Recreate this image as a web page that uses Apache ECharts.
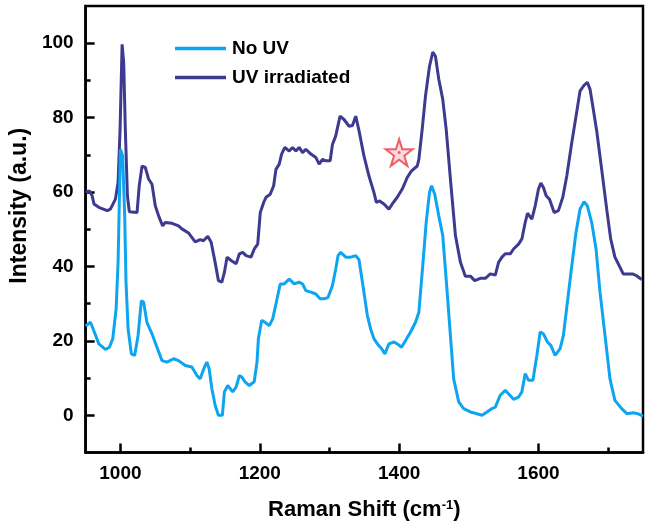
<!DOCTYPE html>
<html>
<head>
<meta charset="utf-8">
<title>Raman spectra</title>
<script src="https://cdn.jsdelivr.net/npm/echarts@6/dist/echarts.min.js"></script>
<style>
  html, body { margin: 0; padding: 0; background: #fff; }
  #chart { width: 651px; height: 526px; }
</style>
</head>
<body>
<div id="chart"></div>
<script>
// Raman spectra: wavenumber (cm-1) and intensity (a.u.) for each sample
const shiftNoUV = [950, 957, 961.7, 969, 978.5, 984.2, 989, 993.8, 996.6, 1000, 1003.2, 1006.1, 1008, 1011, 1015.7, 1020.4, 1025.3, 1030, 1033.3, 1038, 1045.3, 1052.4, 1059.6, 1066.8, 1076.3, 1083.4, 1093, 1102.5, 1109.7, 1114.4, 1120.6, 1124, 1127.3, 1131.2, 1135.9, 1140.6, 1146.3, 1149.2, 1154, 1161.2, 1166, 1170.7, 1174, 1178.8, 1185, 1192, 1196, 1198, 1202.7, 1207.4, 1213.6, 1218.5, 1223.2, 1229.3, 1235, 1242.2, 1249.4, 1256.5, 1261.4, 1266.1, 1273.3, 1280.4, 1286.6, 1292.3, 1298, 1304.3, 1309, 1312.3, 1316.2, 1323.4, 1330.5, 1337.7, 1342.4, 1347.3, 1354.4, 1359.1, 1363.8, 1368.7, 1374.9, 1379.6, 1385.3, 1392.5, 1397.3, 1403.5, 1409.2, 1416.4, 1423.5, 1428.3, 1433.1, 1438.8, 1443.6, 1446.5, 1451.1, 1456.9, 1462.6, 1467.5, 1473.6, 1478.3, 1485.5, 1492.6, 1502.3, 1511.8, 1519, 1526.1, 1533.2, 1538, 1545.2, 1552.3, 1557, 1564.2, 1571.4, 1576.2, 1580.9, 1585.7, 1592, 1597.7, 1602.4, 1607.1, 1612.8, 1617.7, 1623.9, 1631, 1635.7, 1641.5, 1647.8, 1653.9, 1659.6, 1665.4, 1670.1, 1676.4, 1682.6, 1688.3, 1695.5, 1702.6, 1709.7, 1719.3, 1727.3, 1735.9, 1743.1, 1750];
const intNoUV = [24, 25, 22.8, 19.2, 17.7, 18.3, 20.6, 28.6, 41.1, 71.5, 69.7, 53.6, 35.8, 23.2, 16.5, 16.1, 21.4, 30.8, 30.4, 25, 21.9, 18.3, 14.7, 14.3, 15.2, 14.7, 13.4, 13, 10.7, 9.8, 13, 14.3, 12.5, 7.2, 2.7, 0, 0, 6.3, 8, 6.3, 7.6, 10.7, 10.3, 9, 8, 9, 14.3, 20.6, 25.5, 25, 24.1, 25.9, 29.9, 35.3, 35.3, 36.6, 35.3, 35.8, 35.3, 33.5, 33.1, 32.6, 31.3, 31.3, 31.7, 34.9, 39.3, 42.9, 43.8, 42.5, 42.5, 42.9, 41.8, 35.8, 26.8, 23.2, 20.6, 19.2, 17.9, 16.5, 19.2, 19.7, 19.2, 18.3, 20.1, 22.4, 25, 27.7, 38.4, 51.8, 59.9, 61.7, 59.4, 53.6, 48.3, 36.6, 21.4, 9.8, 3.6, 1.8, 0.9, 0.4, 0, 0.9, 1.8, 2.2, 5.4, 6.7, 5.8, 4.3, 4.9, 6.3, 11.2, 9.4, 9.4, 16.1, 22.4, 21.9, 19.7, 18.8, 16.1, 17.9, 21.4, 30.4, 40.2, 49.2, 55.4, 57.4, 56.3, 51.8, 44.7, 33.1, 21.4, 9.8, 4, 1.8, 0.4, 0.7, 0.4, -0.2];

const shiftUV = [950, 955.6, 959.4, 962, 969, 981, 985.6, 992.8, 996.6, 999.5, 1002.4, 1004.7, 1007, 1010, 1012.8, 1023.8, 1027, 1031, 1035.7, 1040.4, 1045.3, 1050, 1054.8, 1060.5, 1064.3, 1074, 1083.4, 1088.2, 1097.7, 1107.3, 1114.4, 1119, 1125.4, 1130.2, 1135.9, 1140.6, 1145.5, 1149.2, 1153, 1158.8, 1166, 1170.7, 1175.5, 1180.3, 1187.4, 1192.1, 1197, 1200.7, 1205.6, 1208.9, 1211.3, 1215, 1219.9, 1223.2, 1227.9, 1231.3, 1236, 1242.2, 1247, 1251.8, 1256.5, 1261.4, 1266.1, 1273.3, 1280.4, 1285.2, 1290, 1294.7, 1301, 1304.3, 1309, 1315.2, 1320.9, 1328, 1333, 1337.7, 1342.4, 1344.8, 1349.5, 1356.7, 1363.8, 1367.3, 1372, 1378.2, 1385.3, 1390.2, 1397.3, 1404.5, 1411.6, 1417.8, 1426, 1428.3, 1433.1, 1437.8, 1443.6, 1448.3, 1452.1, 1456.9, 1462.6, 1467.5, 1473.6, 1480.8, 1488, 1495, 1502.3, 1508.4, 1516.5, 1523.7, 1530.9, 1538, 1542.7, 1547.6, 1552.3, 1559.5, 1564.2, 1571.4, 1576.2, 1580.9, 1584.2, 1590.5, 1595.3, 1600, 1603.4, 1607.1, 1611, 1615.7, 1622.5, 1628.6, 1634.9, 1640.6, 1647.8, 1653.9, 1659.6, 1665.4, 1670.1, 1674, 1678.7, 1683.6, 1690.7, 1697.9, 1703.6, 1709.7, 1716.9, 1721.6, 1728.8, 1735, 1740.8, 1748];
const intUV = [60, 60.3, 59, 56.8, 55.9, 55, 55.4, 58.1, 62.6, 76.9, 99.7, 94.7, 76.9, 59, 54.7, 54.5, 61.7, 67, 66.6, 63.5, 62.1, 56.3, 53.6, 50.9, 51.8, 51.6, 50.9, 50.1, 49, 46.6, 47.2, 46.9, 48.1, 46.5, 41.1, 36.2, 35.8, 38.4, 42.5, 41.6, 40.7, 43.4, 43.8, 42.9, 42.5, 44.7, 46, 54.5, 57.2, 58.6, 58.1, 59.4, 61.7, 66.1, 67.5, 70.2, 72, 71, 72, 71, 72, 70.6, 71.5, 70.2, 69.3, 67.5, 68.8, 68.4, 68.4, 72.8, 75.1, 80.4, 79.5, 77.7, 77.9, 80.4, 76.5, 74.2, 69.7, 64.3, 59.9, 57.2, 57.6, 56.8, 55.4, 56.8, 58.6, 60.8, 63.9, 65.7, 67, 68.8, 76.9, 85.8, 93.8, 97.6, 96.5, 90.3, 84.9, 76.9, 63.5, 48.3, 41.1, 37.4, 37.4, 36.2, 36.8, 36.8, 38, 37.7, 41.1, 42.5, 43.4, 43.4, 44.7, 46, 47.4, 51.8, 54.3, 52.7, 56.3, 60.8, 62.4, 61.2, 59, 58.1, 54.5, 55, 58.6, 64.3, 73.3, 80.4, 87.1, 88.7, 89.5, 87.6, 82.2, 76.4, 66.1, 55.4, 47.4, 42.5, 39.8, 38, 38, 38, 37.5, 36.5];

// Highlighted band marker (shift, intensity)
const starMark = [1400, 70.6];

// Tick positions
const xMajorTicks = [1000, 1200, 1400, 1600];
const xMinorTicks = [1100, 1300, 1500, 1700];
const yMajorTicks = [0, 20, 40, 60, 80, 100];
const yMinorTicks = [10, 30, 50, 70, 90];

const zip = (xs, ys) => xs.map((x, i) => [x, ys[i]]);

const FONT = 'Arial, "Liberation Sans", Helvetica, sans-serif';
const AXIS_W = 2.5;
const STAR_PATH = 'path://M50,2 L61.2,36.3 L97.6,36.3 L68.2,57.7 L79.4,92.2 L50,70.9 L20.6,92.2 L31.8,57.7 L2.4,36.3 L38.8,36.3 Z';
const plain = v => String(v);

const chart = echarts.init(document.getElementById('chart'), null, { renderer: 'canvas' });

chart.setOption({
  backgroundColor: '#ffffff',
  animation: false,
  grid: {
    left: 84, right: 8, top: 6, bottom: 72,
    show: true, borderColor: '#000', borderWidth: AXIS_W, backgroundColor: 'transparent'
  },
  legend: {
    left: 170, top: 34, orient: 'vertical',
    data: ['No UV', 'UV irradiated'],
    icon: 'rect', itemWidth: 51, itemHeight: 3.5, itemGap: 10,
    textStyle: { fontFamily: FONT, fontWeight: 'bold', fontSize: 19, color: '#000', lineHeight: 17, padding: [0, 0, 0, 1] }
  },
  xAxis: [
    {
      type: 'value', min: 950, max: 1750, position: 'bottom',
      name: 'Raman Shift (cm{sup|-1})', nameLocation: 'middle', nameGap: 46,
      nameTextStyle: {
        fontFamily: FONT, fontWeight: 'bold', fontSize: 22, color: '#000',
        rich: { sup: { fontFamily: FONT, fontWeight: 'bold', fontSize: 13, color: '#000', verticalAlign: 'top', padding: [0, 0, 10, 0] } }
      },
      axisLine: { show: true, onZero: false, lineStyle: { color: '#000', width: AXIS_W } },
      axisTick: { show: true, inside: true, length: 9, customValues: xMajorTicks, lineStyle: { color: '#000', width: AXIS_W } },
      axisLabel: { show: true, customValues: xMajorTicks, formatter: plain, margin: 12, fontFamily: FONT, fontWeight: 'bold', fontSize: 19, color: '#000' },
      splitLine: { show: false }
    },
    {
      type: 'value', min: 950, max: 1750, position: 'bottom',
      axisLine: { show: false, onZero: false },
      axisTick: { show: true, inside: true, length: 5, customValues: xMinorTicks, lineStyle: { color: '#000', width: AXIS_W } },
      axisLabel: { show: false },
      splitLine: { show: false }
    }
  ],
  yAxis: [
    {
      type: 'value', min: -10, max: 110, position: 'left',
      name: 'Intensity (a.u.)', nameLocation: 'middle', nameGap: 44,
      nameTextStyle: { fontFamily: FONT, fontWeight: 'bold', fontSize: 23, color: '#000', padding: [0, 0, 0, 47] },
      axisLine: { show: true, onZero: false, lineStyle: { color: '#000', width: AXIS_W } },
      axisTick: { show: true, inside: true, length: 9, customValues: yMajorTicks, lineStyle: { color: '#000', width: AXIS_W } },
      axisLabel: { show: true, customValues: yMajorTicks, formatter: plain, margin: 12, fontFamily: FONT, fontWeight: 'bold', fontSize: 19, color: '#000' },
      splitLine: { show: false }
    },
    {
      type: 'value', min: -10, max: 110, position: 'left',
      axisLine: { show: false, onZero: false },
      axisTick: { show: true, inside: true, length: 5, customValues: yMinorTicks, lineStyle: { color: '#000', width: AXIS_W } },
      axisLabel: { show: false },
      splitLine: { show: false }
    }
  ],
  series: [
    {
      name: 'UV irradiated', type: 'line', xAxisIndex: 0, yAxisIndex: 0,
      data: zip(shiftUV, intUV),
      showSymbol: false, symbol: 'none',
      lineStyle: { color: '#3d3a90', width: 3 },
      itemStyle: { color: '#3d3a90' }
    },
    {
      name: 'No UV', type: 'line', xAxisIndex: 0, yAxisIndex: 0,
      data: zip(shiftNoUV, intNoUV),
      showSymbol: false, symbol: 'none',
      lineStyle: { color: '#0ea5f0', width: 3 },
      itemStyle: { color: '#0ea5f0' }
    },
    {
      name: 'marker', type: 'scatter', xAxisIndex: 0, yAxisIndex: 0,
      data: [starMark],
      symbol: STAR_PATH, symbolSize: 27,
      itemStyle: { color: '#fbd0d4', borderColor: '#ec3b44', borderWidth: 2 },
      z: 5
    },
    {
      name: 'marker-dot', type: 'scatter', xAxisIndex: 0, yAxisIndex: 0,
      data: [starMark],
      symbol: 'circle', symbolSize: 3,
      itemStyle: { color: '#ec3b44' },
      z: 6
    }
  ]
});
</script>
</body>
</html>
